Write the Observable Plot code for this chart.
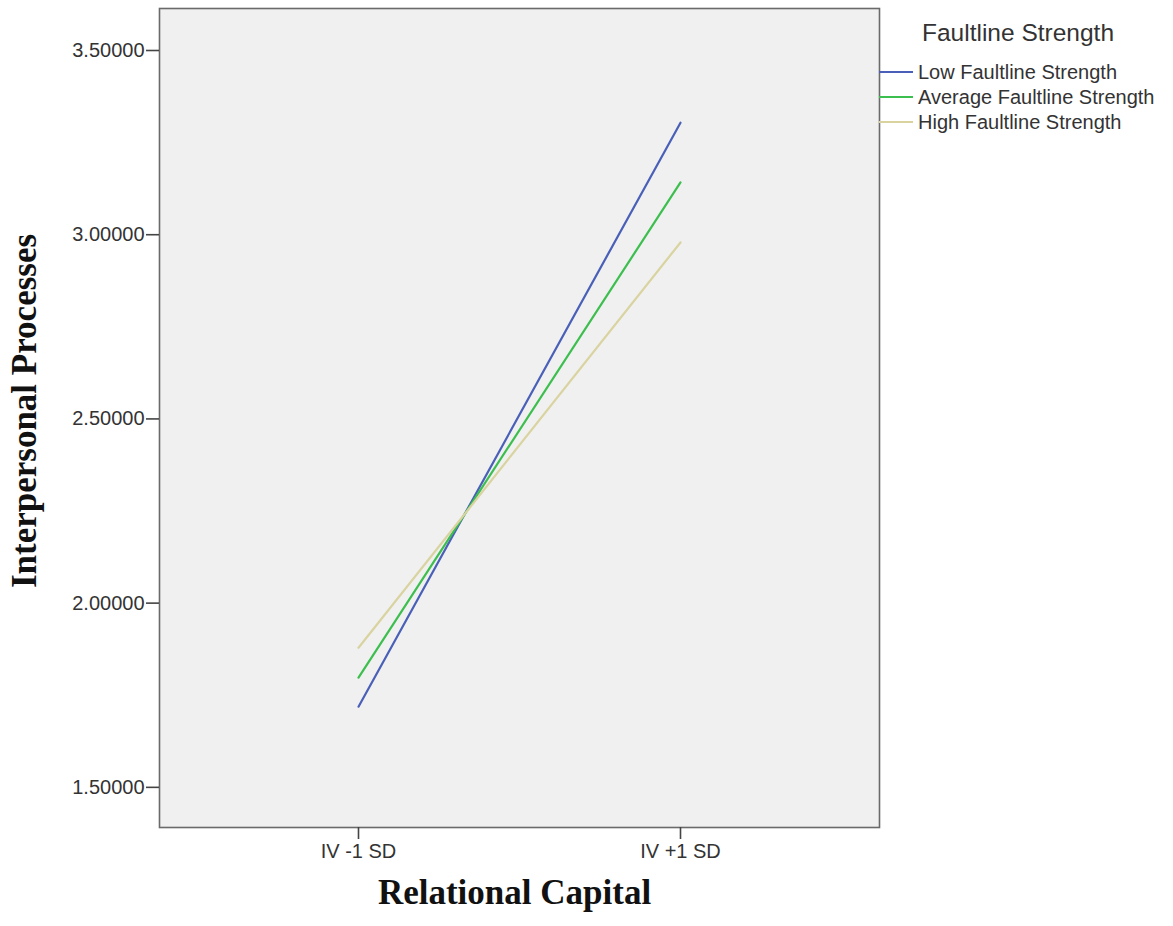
<!DOCTYPE html>
<html><head><meta charset="utf-8">
<script src="https://cdn.jsdelivr.net/npm/d3@7"></script>
<script src="https://cdn.jsdelivr.net/npm/@observablehq/plot@0.6"></script>
<style>
body{margin:0;background:#fff;}
#wrap{position:relative;width:1173px;height:926px;}
.leg{position:absolute;font-family:Arial,"Liberation Sans",sans-serif;color:#333;white-space:nowrap;}
.row{position:absolute;left:879px;height:24px;display:flex;align-items:center;font-family:Arial,"Liberation Sans",sans-serif;font-size:20px;color:#333;white-space:nowrap;}
.sw{display:inline-block;width:34px;height:2px;margin-right:5px;}
</style></head><body><div id="wrap"></div>
<script>
const conditions = ["IV -1 SD", "IV +1 SD"];
const seriesNames = ["Low Faultline Strength", "Average Faultline Strength", "High Faultline Strength"];
const lowValues = [1.719, 3.304];
const averageValues = [1.798, 3.142];
const highValues = [1.879, 2.979];
const yTicks = [1.5, 2.0, 2.5, 3.0, 3.5];
const seriesColors = ["#4a60b8", "#3cbf4e", "#d9d3a0"];
const legendTitle = "Faultline Strength";
const xTitle = "Relational Capital";
const yTitle = "Interpersonal Processes";

const allValues = [lowValues, averageValues, highValues];
const data = [];
seriesNames.forEach((s, i) => conditions.forEach((c, j) => data.push({series: s, condition: c, value: allValues[i][j]})));

const chart = Plot.plot({
  width: 1173, height: 926,
  marginLeft: 159, marginRight: 294, marginTop: 8, marginBottom: 99,
  style: {fontFamily: "Arial, 'Liberation Sans', sans-serif", fontSize: "20px", color: "#333", background: "#fff"},
  x: {type: "point", domain: conditions, padding: 0.616},
  y: {domain: [1.391, 3.614]},
  color: {domain: seriesNames, range: seriesColors},
  marks: [
    Plot.frame({fill: "#f0f0f0"}),
    Plot.line(data, {x: "condition", y: "value", z: "series", stroke: "series", strokeWidth: 2.2}),
    Plot.frame({stroke: "#6a6a6a", strokeWidth: 1.6}),
    Plot.axisY({ticks: yTicks, tickFormat: d3.format(".5f"), tickSize: 13, tickPadding: 2, label: null, stroke: "#444", strokeWidth: 1.6}),
    Plot.axisX({tickSize: 12, tickPadding: 4, label: null, stroke: "#444", strokeWidth: 1.6}),
    Plot.text([yTitle], {text: d => d, frameAnchor: "left", textAnchor: "middle", dx: -135, dy: -7, rotate: -90, fontSize: 35, fontWeight: "bold", fontFamily: "'Liberation Serif', 'Times New Roman', serif", fill: "#111"}),
    Plot.text([xTitle], {text: d => d, frameAnchor: "bottom", dy: 76, dx: -5, fontSize: 35, fontWeight: "bold", fontFamily: "'Liberation Serif', 'Times New Roman', serif", fill: "#111"})
  ]
});
const wrap = document.getElementById("wrap");
wrap.appendChild(chart);

const t = document.createElement("div");
t.className = "leg";
t.style.left = "922px"; t.style.top = "19px"; t.style.fontSize = "24.5px";
t.textContent = legendTitle;
wrap.appendChild(t);
const rowCenters = [72, 97, 122];
seriesNames.forEach((s, i) => {
  const r = document.createElement("div");
  r.className = "row";
  r.style.top = (rowCenters[i] - 12) + "px";
  const sw = document.createElement("span");
  sw.className = "sw"; sw.style.background = seriesColors[i];
  r.appendChild(sw);
  r.appendChild(document.createTextNode(s));
  wrap.appendChild(r);
});
</script>
</body></html>
